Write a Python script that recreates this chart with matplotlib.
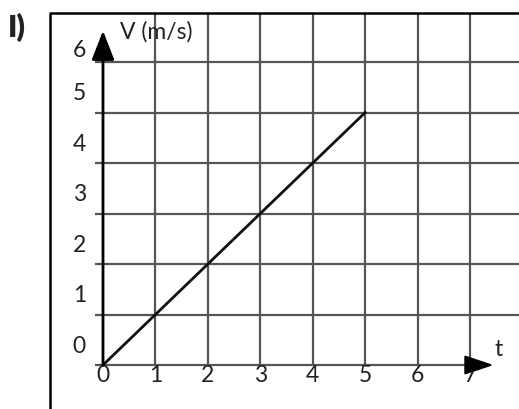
import matplotlib.pyplot as plt
import numpy as np

plt.rcParams['font.family'] = ['Lato', 'DejaVu Sans']

# data
t_ticks = [0, 1, 2, 3, 4, 5, 6, 7]
v_ticks = [0, 1, 2, 3, 4, 5, 6]
t_line = [0, 5]
v_line = [0, 5]

fig = plt.figure(figsize=(5.19, 4.10), dpi=100)
ax = fig.add_axes([0, 0, 1, 1])
ax.set_xlim(-1.9645, 7.934)
ax.set_ylim(-0.871, 7.248)
ax.axis('off')

grid_col = '#555555'
txt_col = '#222222'
top = 6.97      # frame top
left = -1.01    # frame left

# grid
ax.vlines(t_ticks[1:], 0, top, color=grid_col, lw=1.6, zorder=1)
ax.hlines(v_ticks[1:], -0.15, 8.2, color=grid_col, lw=1.6, zorder=1)
ax.hlines(0, -0.15, t_ticks[-1], color=grid_col, lw=1.6, zorder=1)

# frame
ax.plot([left, left, 8.2], [-1.0, top, top], color='black', lw=1.8, zorder=2,
        solid_capstyle='projecting')

# axes with arrows
ax.annotate('', xy=(0, 6.62), xytext=(0, 0),
            arrowprops=dict(arrowstyle='-|>,head_length=0.9,head_width=0.35',
                            lw=2, color='black', shrinkA=0, shrinkB=0,
                            mutation_scale=20), zorder=4)
ax.annotate('', xy=(7.45, 0), xytext=(7.0, 0),
            arrowprops=dict(arrowstyle='-|>,head_length=0.9,head_width=0.3',
                            lw=1.5, color='black', shrinkA=0, shrinkB=0,
                            mutation_scale=20), zorder=4)

# data line
ax.plot(t_line, v_line, color='#111111', lw=2, zorder=3)

# tick labels
for v in v_ticks:
    off = 0.25 if v == v_ticks[-1] else 0.39
    ax.text(-0.45, v + off, str(v), fontsize=16.5, ha='center', va='center',
            color=txt_col)
for t in t_ticks:
    ax.text(t, -0.18, str(t), fontsize=16.5, ha='center', va='center',
            color=txt_col, zorder=3)

ax.text(0.32, 6.62, 'V (m/s)', fontsize=16.5, ha='left', va='center', color=txt_col)
ax.text(7.55, 0.33, 't', fontsize=16.5, ha='center', va='center', color=txt_col)
fig.text(8 / 519, 1 - 27 / 410, 'I)', fontsize=22, fontweight='heavy',
         ha='left', va='center', color=txt_col)

fig.savefig('out.png', dpi=100)
